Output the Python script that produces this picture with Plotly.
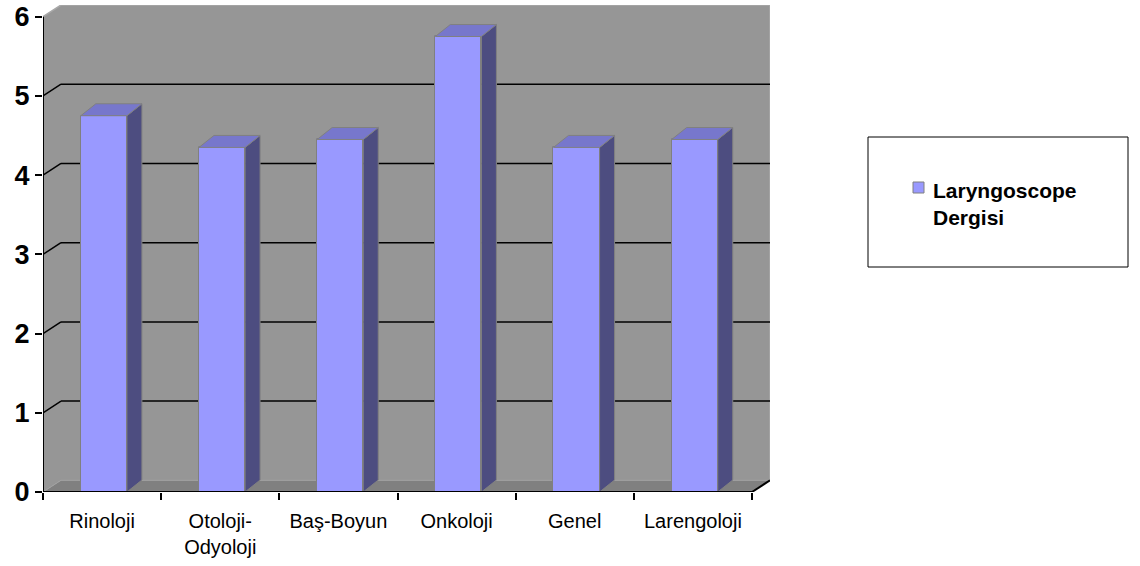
import plotly.graph_objects as go

# ---- data ----
categories = ["Rinoloji", "Otoloji-<br>Odyoloji", "Baş-Boyun", "Onkoloji", "Genel", "Larengoloji"]
values = [4.75, 4.35, 4.45, 5.75, 4.35, 4.45]
y_ticks = [0, 1, 2, 3, 4, 5, 6]
series_name = "Laryngoscope<br>Dergisi"

# ---- geometry / style ----
W, H = 1140, 566
ML, MR, MT, MB = 43, 370, 5, 74
PW, PH = W - ML - MR, H - MT - MB

Y_MAX = 6
DX, DY = 0.1523, 0.1475        # depth of the walls (data units)
BDX, BDY = 0.127, 0.151        # depth of each bar
BAR_W, BAR_SHIFT = 0.39, 0.015

FRONT = "#9999FF"
TOP = "#7777CC"
SIDE = "#4D4D80"
EDGE = "#808080"
WALL = "#969696"
FLOOR = "#808080"
FONT = "Liberation Sans, Arial, sans-serif"

x0, x1 = -0.5, len(categories) - 0.5


def px_x(p):
    return (p - ML) / PW


def px_y(p):
    return (H - MB - p) / PH


def poly(pts):
    return "M " + " L ".join(f"{x},{y}" for x, y in pts) + " Z"


fig = go.Figure()

# front faces of the bars
fig.add_trace(go.Bar(
    x=list(range(len(categories))), y=values,
    width=BAR_W, offset=-BAR_W / 2 + BAR_SHIFT,
    marker=dict(color=FRONT, line=dict(color=EDGE, width=1)),
    name=series_name.replace("<br>", " "), showlegend=False,
))

# side and top faces
for i, v in enumerate(values):
    xl = i - BAR_W / 2 + BAR_SHIFT
    xr = xl + BAR_W
    side = [(xr, 0), (xr + BDX, BDY), (xr + BDX, v + BDY), (xr, v), (xr, 0)]
    top = [(xl, v), (xl + BDX, v + BDY), (xr + BDX, v + BDY), (xr, v), (xl, v)]
    for pts, col in ((side, SIDE), (top, TOP)):
        fig.add_trace(go.Scatter(
            x=[p[0] for p in pts], y=[p[1] for p in pts],
            mode="lines", fill="toself", fillcolor=col,
            line=dict(color=EDGE, width=1), hoverinfo="skip", showlegend=False,
        ))

shapes = []
# back wall, side wall, floor
shapes.append(dict(type="path", xref="x", yref="y", layer="below",
                   path=poly([(x0 + DX, DY), (x1 + DX, DY), (x1 + DX, Y_MAX + DY), (x0 + DX, Y_MAX + DY)]),
                   fillcolor=WALL, line=dict(width=0)))
shapes.append(dict(type="path", xref="x", yref="y", layer="below",
                   path=poly([(x0, 0), (x0 + DX, DY), (x0 + DX, Y_MAX + DY), (x0, Y_MAX)]),
                   fillcolor=WALL, line=dict(width=0)))
shapes.append(dict(type="path", xref="x", yref="y", layer="below",
                   path=poly([(x0, 0), (x1, 0), (x1 + DX, DY), (x0 + DX, DY)]),
                   fillcolor=FLOOR, line=dict(color="#A0A0A0", width=1)))
# wall outline: top edge, top diagonal and right edge
shapes.append(dict(type="path", xref="x", yref="y", layer="below",
                   path=f"M {x0},{Y_MAX} L {x0 + DX},{Y_MAX + DY} L {x1 + DX},{Y_MAX + DY} L {x1 + DX},{DY}",
                   line=dict(color="#A8A8A8", width=1.5)))

# gridlines on the back wall plus their diagonals on the side wall
for v in y_ticks[1:-1]:
    shapes.append(dict(type="line", xref="x", yref="y", layer="below",
                       x0=x0 + DX, x1=x1 + DX, y0=v + DY, y1=v + DY,
                       line=dict(color="black", width=1.5)))
    shapes.append(dict(type="line", xref="x", yref="y", layer="below",
                       x0=x0, x1=x0 + DX, y0=v, y1=v + DY,
                       line=dict(color="black", width=1.5)))

# front axis lines
shapes.append(dict(type="line", xref="x", yref="y", x0=x0, x1=x0, y0=0, y1=Y_MAX,
                   line=dict(color="black", width=2)))
shapes.append(dict(type="line", xref="x", yref="y", x0=x0, x1=x1, y0=0, y1=0,
                   line=dict(color="black", width=2)))
shapes.append(dict(type="line", xref="x", yref="y", x0=x1, x1=x1 + DX, y0=0, y1=DY,
                   line=dict(color="black", width=2)))

# legend box and swatch
shapes.append(dict(type="rect", xref="paper", yref="paper",
                   x0=px_x(868), x1=px_x(1128), y0=px_y(267), y1=px_y(137),
                   fillcolor="white", line=dict(color="black", width=1)))
shapes.append(dict(type="rect", xref="paper", yref="paper",
                   x0=px_x(913), x1=px_x(924), y0=px_y(193), y1=px_y(182),
                   fillcolor=FRONT, line=dict(color=EDGE, width=1)))

annotations = [dict(
    xref="paper", yref="paper", x=px_x(931), y=px_y(204),
    xanchor="left", yanchor="middle", align="left", showarrow=False,
    text=series_name, font=dict(family=FONT, size=21, color="black", weight="bold"),
)]

fig.update_layout(
    width=W, height=H,
    margin=dict(l=ML, r=MR, t=MT, b=MB, autoexpand=False),
    paper_bgcolor="white", plot_bgcolor="white",
    showlegend=False, bargap=0,
    shapes=shapes, annotations=annotations,
    xaxis=dict(
        range=[x0, x1 + DX], showgrid=False, zeroline=False, showline=False,
        tickmode="array", tickvals=list(range(len(categories))), ticktext=categories,
        ticks="", ticklabelstandoff=15,
        tickfont=dict(family=FONT, size=20, color="black"),
        minor=dict(tickmode="array", tickvals=[x0 + k for k in range(len(categories) + 1)],
                   ticks="outside", ticklen=7, tickwidth=2, tickcolor="black"),
        fixedrange=True,
    ),
    yaxis=dict(
        range=[0, Y_MAX + DY], showgrid=False, zeroline=False, showline=False,
        tickmode="array", tickvals=y_ticks, ticks="outside", ticklen=7, tickwidth=2,
        tickcolor="black",
        tickfont=dict(family=FONT, size=27, color="black", weight="bold"),
        fixedrange=True,
    ),
)

fig.write_html("out.html", config={"displayModeBar": False})
